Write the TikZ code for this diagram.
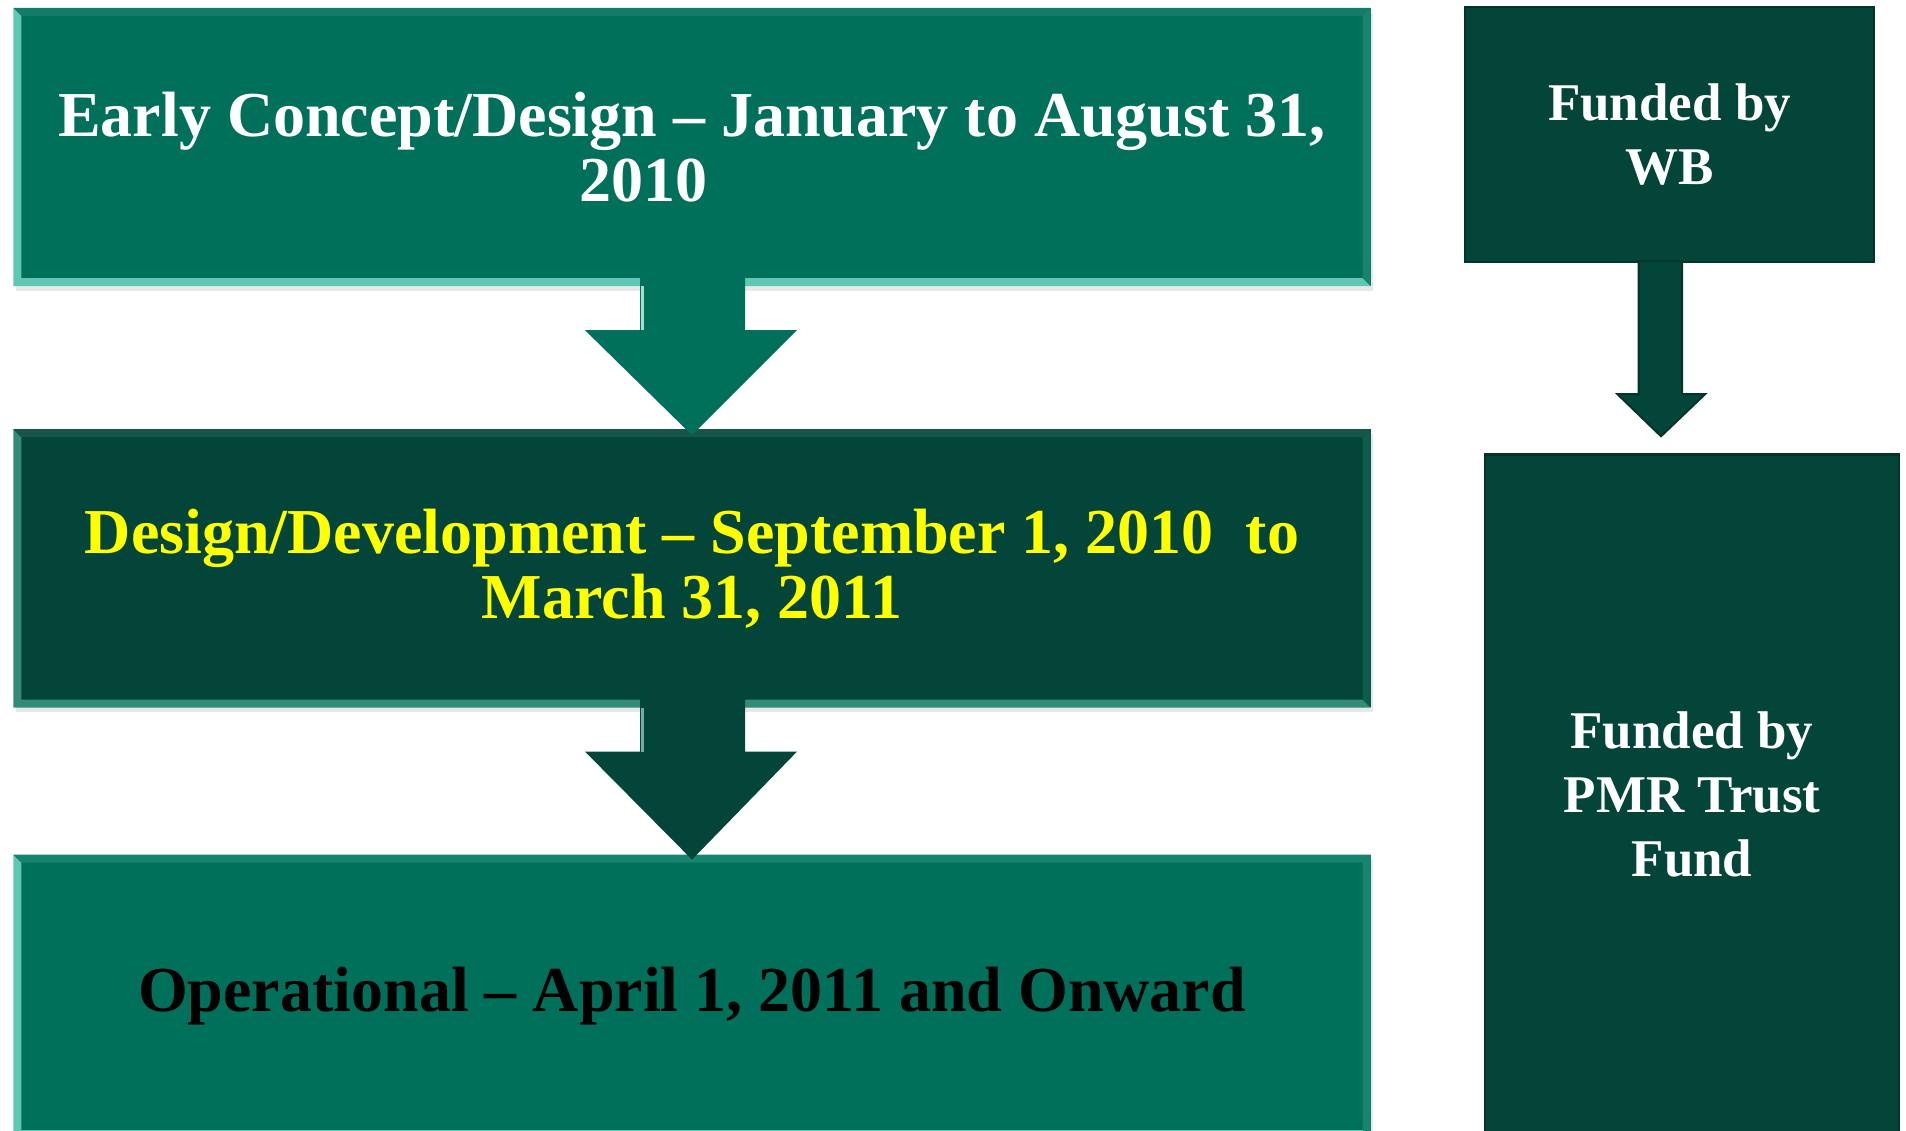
\documentclass[tikz,border=0pt]{standalone}
\usepackage{fontspec}
\setmainfont{Liberation Serif}
\usetikzlibrary{positioning,shadows}

\definecolor{phaseteal}{RGB}{0,112,91}
\definecolor{phasedark}{RGB}{3,70,57}
\definecolor{fundline}{RGB}{2,52,42}
\definecolor{markyellow}{RGB}{255,255,0}
\definecolor{rimteal}{RGB}{96,200,178}
\definecolor{rimtealside}{RGB}{22,132,110}
\definecolor{rimdark}{RGB}{52,140,120}
\definecolor{rimdarkside}{RGB}{14,92,76}

% bevelled rim of a phase box: #1 node, #2 left and bottom, #3 top, #4 right
\newcommand{\phaserim}[4]{%
  \fill[#2] (#1.north west) -- (#1.south west) -- (#1.south east)
    -- ([shift={(-8,-8)}]#1.south east) -- ([shift={(8,-8)}]#1.south west)
    -- ([shift={(8,8)}]#1.north west) -- cycle;
  \fill[#3] (#1.north west) -- (#1.north east) -- ([shift={(-8,8)}]#1.north east)
    -- ([shift={(8,8)}]#1.north west) -- cycle;
  \fill[#4] (#1.north east) -- (#1.south east) -- ([shift={(-8,-8)}]#1.south east)
    -- ([shift={(-8,8)}]#1.north east) -- cycle;
}

\begin{document}
\begin{tikzpicture}[x=1pt,y=-1pt,
    phase/.style={rectangle,minimum width=1357pt,minimum height=278pt,inner sep=0pt,
      align=center,font=\bfseries\fontsize{64}{65}\selectfont,
      drop shadow={shadow xshift=2pt,shadow yshift=-5pt,opacity=.18}},
    fund/.style={rectangle,draw=fundline,line width=2.5pt,fill=phasedark,text=white,
      inner sep=0pt,align=center,font=\bfseries\fontsize{53}{64}\selectfont}]
  \clip (0,0) rectangle (1906,1131);

  % project phases
  \node[phase,fill=phaseteal,text=white] (early) at (692,147)
    {Early Concept/Design -- January to August 31,\\ 2010\hspace*{98pt}};
  \node[phase,fill=phasedark,text=markyellow,below=143pt of early] (design)
    {Design/Development -- September 1, 2010\ \ to\\ March 31, 2011};
  \node[phase,fill=phaseteal,text=black,minimum height=283pt,below=147pt of design] (oper)
    {Operational -- April 1, 2011 and Onward};

  \phaserim{early}{rimteal}{phaseteal!92!white}{rimtealside}
  \phaserim{design}{rimdark}{phasedark!92!white}{rimdarkside}
  \phaserim{oper}{rimteal}{rimtealside}{rimtealside}

  % arrows between the phases
  \fill[phaseteal] ([shift={(-52,-14)}]early.south) -- ++(0,58) -- ++(-55,0)
    -- ([shift={(0,6)}]design.north) -- ++(105,-105) -- ++(-52,0) -- ++(0,-58) -- cycle;
  \fill[phasedark] ([shift={(-52,-14)}]design.south) -- ++(0,58) -- ++(-55,0)
    -- ([shift={(0,5)}]oper.north) -- ++(105,-108) -- ++(-52,0) -- ++(0,-58) -- cycle;
  \draw[rimteal!60!white,line width=3pt] ([shift={(-50,0)}]early.south) -- ++(0,44);
  \draw[rimdark!70!white,line width=3pt] ([shift={(-50,0)}]design.south) -- ++(0,44);

  % funding
  \node[fund,minimum width=409pt,minimum height=255pt] (wb) at (1669.5,134.5) {Funded by\\ WB};
  \node[fund,minimum width=414pt,minimum height=679pt,below=190pt of wb,xshift=22.5pt] (pmr)
    {Funded by\\ PMR Trust\\ Fund};
  \draw[fundline,line width=2pt,fill=phasedark] ([shift={(-31,-2)}]wb.south) -- ++(0,133)
    -- ++(-21,0) -- ([shift={(-31,-17)}]pmr.north) -- ++(44,-42) -- ++(-23,0) -- ++(0,-133) -- cycle;
\end{tikzpicture}
\end{document}
